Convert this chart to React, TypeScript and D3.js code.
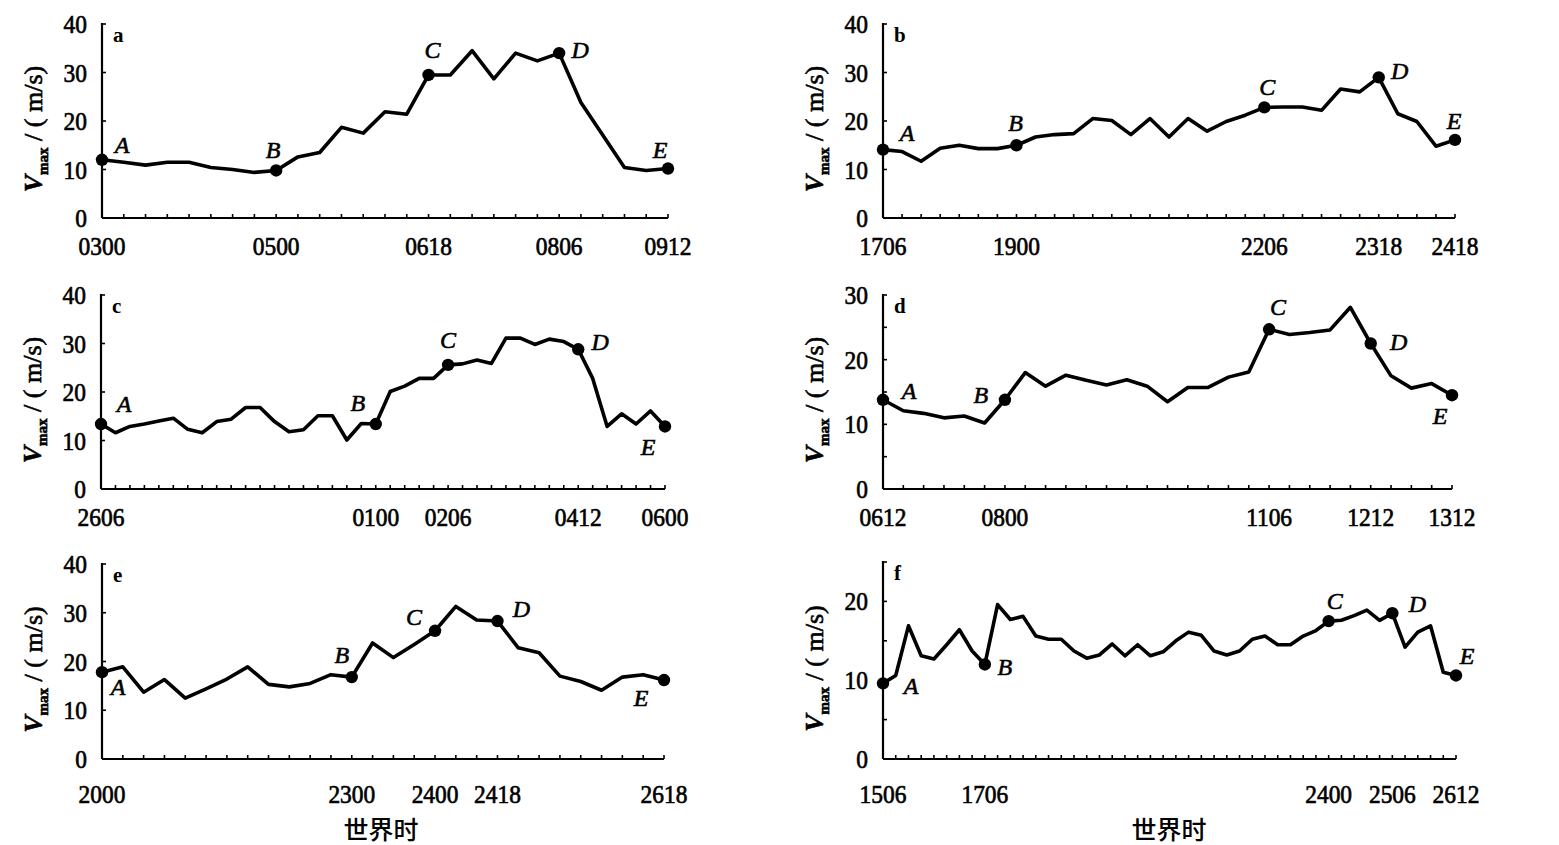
import React from 'react';
import * as d3 from 'd3';

// ---------- DATA (6-hourly Vmax, m/s) ----------
const seriesA = [12.0, 11.5, 10.9, 11.5, 11.5, 10.4, 10.0, 9.4, 9.8, 12.6, 13.5, 18.7, 17.5, 21.9, 21.4, 29.5, 29.5, 34.5, 28.7, 34.0, 32.4, 34.0, 23.8, 17.1, 10.4, 9.8, 10.2];
const seriesB = [14.1, 13.7, 11.7, 14.4, 15.0, 14.3, 14.3, 15.0, 16.7, 17.2, 17.4, 20.5, 20.1, 17.2, 20.5, 16.7, 20.5, 17.9, 19.9, 21.2, 22.8, 22.9, 22.9, 22.2, 26.6, 26.0, 29.0, 21.5, 19.9, 14.8, 16.1];
const seriesC = [13.4, 11.6, 12.9, 13.4, 14.0, 14.6, 12.3, 11.6, 13.9, 14.4, 16.8, 16.8, 13.9, 11.8, 12.2, 15.1, 15.1, 10.1, 13.5, 13.4, 20.1, 21.2, 22.8, 22.8, 25.6, 25.8, 26.6, 25.9, 31.1, 31.1, 29.8, 30.9, 30.4, 28.8, 22.8, 12.9, 15.5, 13.4, 16.1, 12.9];
const seriesD = [13.8, 12.1, 11.7, 11.0, 11.3, 10.2, 13.8, 18.0, 15.9, 17.6, 16.8, 16.1, 16.9, 15.9, 13.5, 15.7, 15.7, 17.3, 18.1, 24.7, 23.9, 24.2, 24.6, 28.1, 22.5, 17.5, 15.6, 16.3, 14.5];
const seriesE = [17.8, 18.9, 13.7, 16.3, 12.5, 14.4, 16.4, 18.9, 15.3, 14.8, 15.5, 17.3, 16.8, 23.8, 20.8, 23.5, 26.3, 31.3, 28.5, 28.3, 22.8, 21.8, 17.0, 15.9, 14.1, 16.8, 17.3, 16.2];
const seriesF = [9.6, 10.6, 16.9, 13.1, 12.7, 14.5, 16.4, 13.7, 12.0, 19.6, 17.7, 18.1, 15.6, 15.2, 15.2, 13.7, 12.8, 13.2, 14.6, 13.1, 14.5, 13.1, 13.6, 15.0, 16.1, 15.7, 13.7, 13.2, 13.7, 15.2, 15.6, 14.5, 14.5, 15.6, 16.3, 17.5, 17.6, 18.2, 18.9, 17.6, 18.5, 14.2, 16.1, 16.9, 11.0, 10.6];

// x tick labels (UTC, DDHH) and their 6-hour step indices
const tickLabelsA = ['0300', '0500', '0618', '0806', '0912'];
const tickLabelsB = ['1706', '1900', '2206', '2318', '2418'];
const tickLabelsC = ['2606', '0100', '0206', '0412', '0600'];
const tickLabelsD = ['0612', '0800', '1106', '1212', '1312'];
const tickLabelsE = ['2000', '2300', '2400', '2418', '2618'];
const tickLabelsF = ['1506', '1706', '2400', '2506', '2612'];

const keyIdxA = [0, 8, 15, 21, 26];
const keyIdxB = [0, 7, 20, 26, 30];
const keyIdxC = [0, 19, 24, 33, 39];
const keyIdxD = [0, 6, 19, 24, 28];
const keyIdxE = [0, 12, 16, 19, 27];
const keyIdxF = [0, 8, 35, 40, 45];

const stageLetters = ['A', 'B', 'C', 'D', 'E'];
const panelNames = ['a', 'b', 'c', 'd', 'e', 'f'];

const yMaxes = [40, 40, 40, 30, 40, 25];
const yLabelSteps = [10, 10, 10, 10, 10, 10];
const yTickSteps = [10, 10, 10, 5, 10, 5];

// ---------- layout (styles / positions) ----------
const SERIF = '"Liberation Serif", "Times New Roman", serif';

const layouts = [
  { x0: 102, x1: 668, yZero: 218, yTop: 24, tickLabDy: 37 },
  { x0: 883, x1: 1455, yZero: 218, yTop: 24, tickLabDy: 37 },
  { x0: 101, x1: 665, yZero: 489, yTop: 295, tickLabDy: 37 },
  { x0: 883, x1: 1452, yZero: 489, yTop: 295, tickLabDy: 37 },
  { x0: 102, x1: 664, yZero: 759, yTop: 564, tickLabDy: 44 },
  { x0: 883, x1: 1456, yZero: 759, yTop: 562, tickLabDy: 44 },
];

// letter label offsets relative to the key point
const letterOffsets = [
  [[20, -15], [-3, -20], [4, -25], [21, -3], [-8, -19]],
  [[24, -17], [-1, -22], [3, -20], [21, -6], [-1, -19]],
  [[23, -20], [-18, -21], [0, -25], [22, -7], [-17, 21]],
  [[26, -9], [-24, -5], [9, -22], [28, -2], [-12, 21]],
  [[16, 15], [-10, -22], [-21, -14], [24, -12], [-23, 18]],
  [[28, 3], [20, 3], [6, -20], [25, -9], [11, -19]],
];

const allSeries = [seriesA, seriesB, seriesC, seriesD, seriesE, seriesF];
const allTickLabels = [tickLabelsA, tickLabelsB, tickLabelsC, tickLabelsD, tickLabelsE, tickLabelsF];
const allKeyIdx = [keyIdxA, keyIdxB, keyIdxC, keyIdxD, keyIdxE, keyIdxF];

function NumText({ x, y, anchor, children }: { x: number; y: number; anchor: string; children: any }) {
  return (
    <text
      transform={`translate(${x},${y}) scale(0.9,1)`}
      textAnchor={anchor}
      fontFamily={SERIF}
      fontSize={26}
      stroke="#000"
      strokeWidth={0.7}
    >
      {children}
    </text>
  );
}

function Panel({ p }: { p: number }) {
  const L = layouts[p];
  const data = allSeries[p];
  const n = data.length;
  const x = d3.scaleLinear().domain([0, n - 1]).range([L.x0, L.x1]);
  const y = d3.scaleLinear().domain([0, yMaxes[p]]).range([L.yZero, L.yTop]);
  const line = d3
    .line<number>()
    .x((_, i) => x(i))
    .y((d) => y(d));
  const yTicks = d3.range(0, yMaxes[p] + 0.001, yTickSteps[p]);
  const yLabels = d3.range(0, yMaxes[p] + 0.001, yLabelSteps[p]);
  const xTicks = d3.range(0, n);
  const keys = allKeyIdx[p];
  const labels = allTickLabels[p];
  const midY = (L.yZero + L.yTop) / 2 + 8;
  const titleX = L.x0 - 60;

  return (
    <g>
      {/* axes */}
      <line x1={L.x0} x2={L.x0} y1={L.yTop - 1} y2={L.yZero} stroke="#000" strokeWidth={2.2} />
      <line x1={L.x0} x2={L.x1} y1={L.yZero} y2={L.yZero} stroke="#000" strokeWidth={2.2} />
      {xTicks.map((i) => (
        <line key={'xt' + i} x1={x(i)} x2={x(i)} y1={L.yZero} y2={L.yZero - 4} stroke="#000" strokeWidth={1.6} />
      ))}
      {yTicks.map((v) => (
        <line key={'yt' + v} x1={L.x0} x2={L.x0 + 4} y1={y(v)} y2={y(v)} stroke="#000" strokeWidth={1.6} />
      ))}
      {yLabels.map((v) => (
        <NumText key={'yl' + v} x={L.x0 - 15} y={y(v) + 9} anchor="end">
          {v}
        </NumText>
      ))}
      {keys.map((k, j) => (
        <NumText key={'xl' + j} x={x(k)} y={L.yZero + L.tickLabDy} anchor="middle">
          {labels[j]}
        </NumText>
      ))}
      {/* panel letter */}
      <text x={L.x0 + 11} y={L.yTop + 18} fontFamily={SERIF} fontSize={21} fontWeight="bold">
        {panelNames[p]}
      </text>
      {/* y title */}
      <text
        transform={`translate(${titleX},${midY}) rotate(-90)`}
        textAnchor="middle"
        fontFamily={SERIF}
        fontSize={26}
        stroke="#000"
        strokeWidth={0.6}
      >
        <tspan fontStyle="italic" fontWeight="bold">V</tspan>
        <tspan fontSize={15} dy={6} fontWeight="bold">max</tspan>
        <tspan dy={-6}> / ( m/s)</tspan>
      </text>
      {/* series */}
      <path d={line(data) || ''} fill="none" stroke="#000" strokeWidth={3.6} strokeLinejoin="round" />
      {keys.map((k, j) => (
        <circle key={'kp' + j} cx={x(k)} cy={y(data[k])} r={6.2} fill="#000" />
      ))}
      {keys.map((k, j) => (
        <text
          key={'kl' + j}
          x={x(k) + letterOffsets[p][j][0]}
          y={y(data[k]) + letterOffsets[p][j][1] + 8}
          textAnchor="middle"
          fontFamily={SERIF}
          fontStyle="italic"
          fontSize={24}
          stroke="#000"
          strokeWidth={0.6}
        >
          {stageLetters[j]}
        </text>
      ))}
    </g>
  );
}

export default function App() {
  return (
    <svg
      width={1559}
      height={845}
      style={{ position: 'absolute', left: 0, top: 0, background: '#fff' }}
    >
      <rect x={0} y={0} width={1559} height={845} fill="#fff" />
      {panelNames.map((_, p) => (
        <Panel key={p} p={p} />
      ))}
      <text x={381} y={839} textAnchor="middle" fontFamily='"Noto Sans CJK SC", sans-serif' fontSize={25} fontWeight={500}>
        世界时
      </text>
      <text x={1169} y={839} textAnchor="middle" fontFamily='"Noto Sans CJK SC", sans-serif' fontSize={25} fontWeight={500}>
        世界时
      </text>
    </svg>
  );
}
